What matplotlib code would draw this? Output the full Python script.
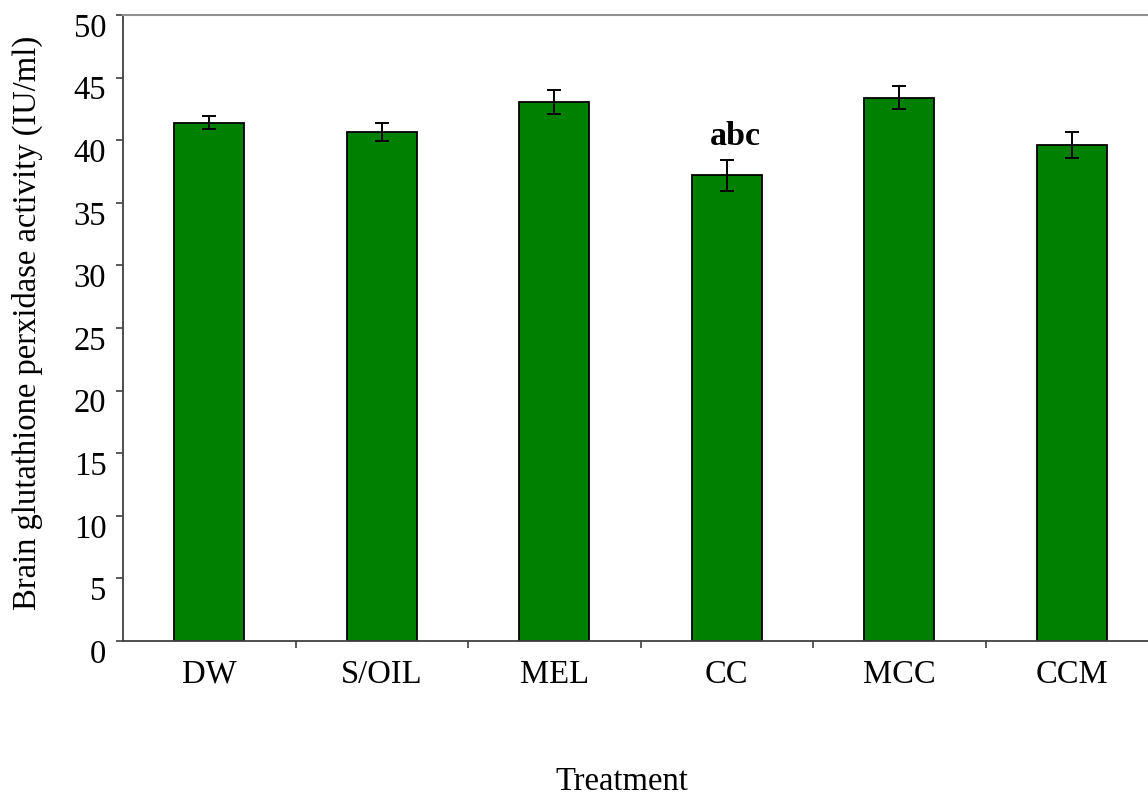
import matplotlib
matplotlib.use("Agg")
import matplotlib.pyplot as plt
import matplotlib.transforms as mtransforms

treatments = ["DW", "S/OIL", "MEL", "CC", "MCC", "CCM"]
activity = [41.4, 40.65, 43.05, 37.2, 43.4, 39.6]
sem = [0.52, 0.69, 0.95, 1.22, 0.93, 1.04]
significance = ["", "", "", "abc", "", ""]

plt.rcParams["font.family"] = ["Liberation Serif", "DejaVu Serif"]
FS = 23.5

fig = plt.figure(figsize=(11.48, 7.96), dpi=100)
# axes run slightly past the right edge of the canvas
ax = fig.add_axes([123 / 1148, 1 - 641 / 796, (1158 - 123) / 1148, (641 - 15) / 796])

x = list(range(len(treatments)))
ax.bar(x, activity, width=0.405, color="#008000", edgecolor="black", linewidth=1.3,
       yerr=sem, error_kw=dict(ecolor="black", elinewidth=1.4, capsize=5, capthick=1.4))

for xi, v, e, s in zip(x, activity, sem, significance):
    if s:
        ax.text(xi + 0.05, v + e + 1.85, s, ha="center", va="center",
                fontsize=24.5, fontweight="bold")

ax.set_xlim(-0.5, len(treatments) - 0.5)
ax.set_ylim(0, 50)
ax.set_yticks(range(0, 51, 5))
ax.set_xticks([i + 0.5 for i in range(len(treatments) - 1)])
ax.set_xticklabels([])
ax.set_xticks(x, minor=True)
ax.set_xticklabels(treatments, minor=True, va="baseline")
ax.tick_params(axis="x", which="minor", length=0, pad=30, labelsize=FS)
ax.tick_params(axis="x", which="major", length=5, width=1.2, color="#404040", direction="out")
ax.tick_params(axis="y", length=5, width=1.2, color="#404040", direction="out",
               labelsize=FS, pad=7)

# y tick labels sit a little below their ticks
shift = mtransforms.ScaledTranslation(0, -10 / 100, fig.dpi_scale_trans)
for lbl in ax.get_yticklabels():
    lbl.set_transform(lbl.get_transform() + shift)

ax.spines["left"].set_color("#404040")
ax.spines["bottom"].set_color("#404040")
ax.spines["left"].set_linewidth(1.3)
ax.spines["bottom"].set_linewidth(1.3)
ax.spines["top"].set_color("#909090")
ax.spines["top"].set_linewidth(1.5)
ax.spines["right"].set_visible(False)

fig.text(27 / 1148, 1 - 323 / 796, "Brain glutathione perxidase activity (IU/ml)",
         rotation=90, ha="center", va="center", fontsize=FS)
fig.text(622 / 1148, 1 - 782 / 796, "Treatment", ha="center", va="center", fontsize=FS)

fig.savefig("out.png", dpi=100)
